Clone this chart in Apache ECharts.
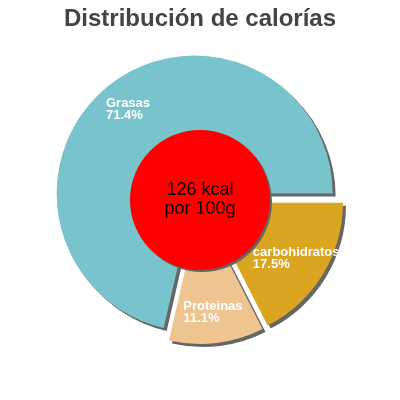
<!DOCTYPE html>
<html>
<head>
<meta charset="utf-8">
<script src="https://cdn.jsdelivr.net/npm/echarts@6/dist/echarts.min.js"></script>
<style>html,body{margin:0;padding:0;background:#fff}#c{width:400px;height:400px}</style>
</head>
<body>
<div id="c"></div>
<script>
var categories = ['Grasas', 'Proteinas', 'carbohidratos'];
var percents = [71.4, 11.1, 17.5];
var colors = ['#79C4CC', '#EEC591', '#DAA520'];
var centerLines = ['126 kcal', 'por 100g'];
var titleText = 'Distribución de calorías';

var chart = echarts.init(document.getElementById('c'), null, {renderer: 'canvas'});
var font = '"Liberation Sans", Arial, sans-serif';
function sliceData(withColor) {
  return categories.map(function (c, i) {
    return {name: c, value: percents[i], selected: true,
      itemStyle: {color: withColor ? colors[i] : 'rgba(0,0,0,0)'}};
  });
}
var common = {
  type: 'pie', center: [199, 199], startAngle: 0, clockwise: false,
  selectedMode: 'multiple', selectedOffset: 7, emphasis: {disabled: true},
  labelLine: {show: false}
};
chart.setOption({
  animation: false,
  title: {
    text: titleText, left: 'center', top: 7, padding: 0,
    textStyle: {fontFamily: font, fontSize: 24, fontWeight: 'bold', color: '#444'}
  },
  series: [
    Object.assign({}, common, {
      radius: [0, 138],
      label: {show: false},
      itemStyle: {shadowColor: '#666', shadowOffsetX: 3, shadowOffsetY: 3, shadowBlur: 0},
      data: sliceData(true)
    }),
    {
      type: 'pie',
      center: [200, 200],
      radius: [0, 70],
      silent: true,
      labelLine: {show: false},
      itemStyle: {color: '#FF0000', shadowColor: '#666', shadowOffsetX: 2, shadowOffsetY: 2, shadowBlur: 0},
      label: {
        position: 'center',
        formatter: centerLines.join('\n'),
        color: '#000', fontSize: 18, fontFamily: font, lineHeight: 19
      },
      data: [{name: 'kcal', value: 1}]
    },
    Object.assign({}, common, {
      radius: [70, 138],
      silent: true,
      label: {
        position: 'inside',
        formatter: function (p) { return '{w|' + p.name + '}\n{w|' + p.value.toFixed(1) + '%}'; },
        rich: {w: {align: 'left', color: '#fff', fontSize: 13, fontWeight: 'bold', fontFamily: font, lineHeight: 12}}
      },
      itemStyle: {color: 'rgba(0,0,0,0)'},
      data: sliceData(false)
    })
  ]
});
</script>
</body>
</html>
